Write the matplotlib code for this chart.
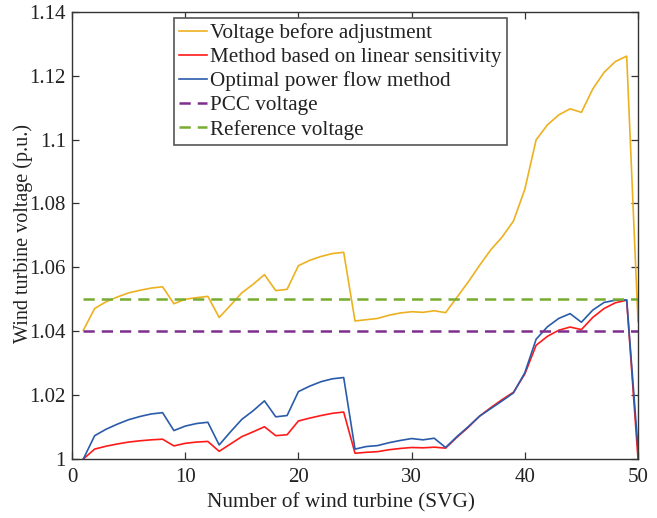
import matplotlib
matplotlib.use("Agg")
import matplotlib.pyplot as plt
from matplotlib.ticker import FuncFormatter

plt.rcParams['font.family'] = ['Liberation Serif', 'DejaVu Serif']
plt.rcParams['mathtext.fontset'] = 'stix'

turbines = list(range(1, 51))

v_before = [1.0403, 1.0471, 1.0492, 1.0507, 1.0520, 1.0528, 1.0535, 1.0539, 1.0486, 1.0500,
            1.0505, 1.0509, 1.0443, 1.0481, 1.0520, 1.0547, 1.0577, 1.0527, 1.0531, 1.0605,
            1.0622, 1.0634, 1.0643, 1.0647, 1.0432, 1.0436, 1.0440, 1.0450, 1.0457, 1.0461,
            1.0459, 1.0464, 1.0458, 1.0506, 1.0554, 1.0606, 1.0655, 1.0695, 1.0745, 1.0844,
            1.0999, 1.1046, 1.1077, 1.1096, 1.1085, 1.1158, 1.1210, 1.1244, 1.1261, 1.0430]

v_linear = [1.0000, 1.0031, 1.0040, 1.0047, 1.0053, 1.0057, 1.0060, 1.0062, 1.0041, 1.0049,
            1.0053, 1.0055, 1.0024, 1.0047, 1.0070, 1.0085, 1.0101, 1.0073, 1.0076, 1.0119,
            1.0128, 1.0136, 1.0143, 1.0147, 1.0018, 1.0021, 1.0023, 1.0029, 1.0033, 1.0036,
            1.0035, 1.0037, 1.0034, 1.0068, 1.0099, 1.0134, 1.0161, 1.0186, 1.0209, 1.0266,
            1.0356, 1.0384, 1.0403, 1.0413, 1.0405, 1.0443, 1.0471, 1.0489, 1.0497, 1.0000]

v_opf = [1.0000, 1.0073, 1.0093, 1.0109, 1.0123, 1.0133, 1.0141, 1.0145, 1.0089, 1.0103,
         1.0111, 1.0115, 1.0044, 1.0085, 1.0124, 1.0151, 1.0182, 1.0132, 1.0136, 1.0211,
         1.0228, 1.0242, 1.0251, 1.0255, 1.0031, 1.0039, 1.0042, 1.0051, 1.0058, 1.0064,
         1.0060, 1.0065, 1.0036, 1.0070, 1.0101, 1.0134, 1.0158, 1.0182, 1.0207, 1.0270,
         1.0375, 1.0414, 1.0440, 1.0455, 1.0428, 1.0466, 1.0490, 1.0497, 1.0498, 1.0031]

pcc_voltage = 1.04
ref_voltage = 1.05

x_ticks = [0, 10, 20, 30, 40, 50]
y_ticks = [1.00, 1.02, 1.04, 1.06, 1.08, 1.10, 1.12, 1.14]

fig = plt.figure(figsize=(6.57, 5.18), dpi=100)
ax = fig.add_axes([0.1096, 0.1139, 0.8615, 0.8635])

ax.plot(turbines, v_before, color='#EDB120', lw=1.2, label='Voltage before adjustment')
ax.plot(turbines, v_linear, color='#FF1A1A', lw=1.2, label='Method based on linear sensitivity')
ax.plot(turbines, v_opf, color='#2A5BAA', lw=1.2, label='Optimal power flow method')
ax.plot([turbines[0], turbines[-1]], [pcc_voltage, pcc_voltage], color='#7E2F8E', lw=1.8,
        ls=(0, (4.5, 2.8)), label='PCC voltage')
ax.plot([turbines[0], turbines[-1]], [ref_voltage, ref_voltage], color='#77AC30', lw=1.8,
        ls=(0, (4.5, 2.8)), label='Reference voltage')

ax.set_xlim(0, 50)
ax.set_ylim(1.0, 1.14)
ax.set_xticks(x_ticks)
ax.set_yticks(y_ticks)
ax.yaxis.set_major_formatter(FuncFormatter(lambda v, p: '%g' % round(v, 2)))

for side in ax.spines.values():
    side.set_color('#333333')
    side.set_linewidth(1.0)
ax.tick_params(direction='in', top=True, right=True, length=5, width=0.9,
               colors='#333333', labelcolor='#222222', labelsize=15)
ax.tick_params(axis='x', pad=6.5)
ax.tick_params(axis='y', pad=4.5)

ax.set_xlabel('Number of wind turbine (SVG)', fontsize=15.3, color='#222222')
ax.set_ylabel('Wind turbine voltage (p.u.)', fontsize=14.5, color='#222222')
ax.xaxis.set_label_coords(0.475, -0.076)
ax.yaxis.set_label_coords(-0.069, 0.505)

leg = ax.legend(loc='upper left', bbox_to_anchor=(0.172, 0.995), fontsize=15.2,
                frameon=True, fancybox=False, framealpha=1, edgecolor='#555555',
                handlelength=1.35, handletextpad=0.12, labelspacing=0.2,
                borderpad=0.25, borderaxespad=0.2)
leg.get_frame().set_linewidth(1.2)
for t in leg.get_texts():
    t.set_color('#222222')

fig.savefig('out.png', dpi=100)
